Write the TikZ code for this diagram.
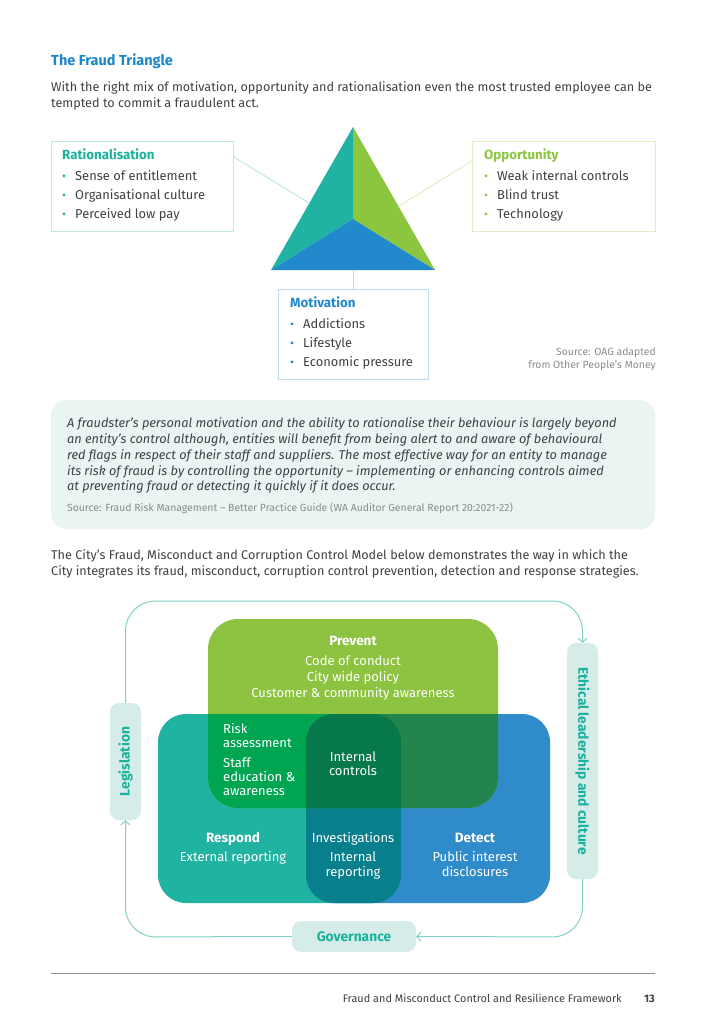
\documentclass[tikz,border=0pt]{standalone}
\usepackage{fontspec}
\setmainfont{Fira Sans}
\usetikzlibrary{arrows.meta,calc}
\definecolor{titleblue}{HTML}{1B87C9}
\definecolor{bodytext}{HTML}{3E4245}
\definecolor{ratteal}{HTML}{1AB29C}
\definecolor{oppgreen}{HTML}{8CC63F}
\definecolor{motblue}{HTML}{2289CD}
\definecolor{ratborder}{HTML}{BFE8E4}
\definecolor{oppborder}{HTML}{DCEFC5}
\definecolor{motborder}{HTML}{BDDCF0}
\definecolor{quotefill}{HTML}{EAF4F2}
\definecolor{srcgray}{HTML}{8A8C8E}
\definecolor{dteal}{HTML}{21B3A2}
\definecolor{dblue}{HTML}{2F8BC9}
\definecolor{dtb}{HTML}{077F8C}
\definecolor{dgreen}{HTML}{8DC340}
\definecolor{dpr}{HTML}{00A551}
\definecolor{dpd}{HTML}{22854D}
\definecolor{dprd}{HTML}{07784A}
\definecolor{pillfill}{HTML}{D5ECE8}
\definecolor{pilltext}{HTML}{1AB29C}
\definecolor{loopline}{HTML}{82D0C6}
\definecolor{footgray}{HTML}{8E9194}
\tikzset{
  body/.style={anchor=base west, inner sep=0, text=bodytext, font=\fontsize{12.65}{15}\selectfont},
  btitle/.style={anchor=base west, inner sep=0, font=\bfseries\fontsize{13.3}{15}\selectfont},
  bitem/.style={anchor=base west, inner sep=0, text=bodytext, font=\fontsize{12.9}{15}\selectfont},
  bdot/.style={anchor=base, inner sep=0, font=\fontsize{12}{12}\selectfont},
  fbox/.style={draw, line width=1pt, anchor=north west, inner sep=0},
  quote/.style={anchor=base west, inner sep=0, text=bodytext, font=\itshape\fontsize{12.75}{15}\selectfont},
  src/.style={inner sep=0, text=srcgray, font=\fontsize{10.4}{12}\selectfont},
  dtext/.style={anchor=base, inner sep=0, text=white, font=\fontsize{13}{15}\selectfont},
  dhead/.style={anchor=base, inner sep=0, text=white, font=\bfseries\fontsize{13.5}{15}\selectfont},
  dleft/.style={anchor=base west, inner sep=0, text=white, font=\fontsize{13}{15}\selectfont},
  pill/.style={fill=pillfill, rounded corners=9, inner sep=0, text=pilltext, font=\bfseries\fontsize{13.8}{15}\selectfont},
  loop/.style={draw=loopline, line width=1pt, rounded corners=30},
  tip/.style={-{Straight Barb[length=4pt,width=9pt]}}
}
\begin{document}
\begin{tikzpicture}[x=1pt,y=-1pt]
\useasboundingbox[fill=white] (0,0) rectangle (706,1021);

% ---------- header ----------
\node[anchor=base west, inner sep=0, text=titleblue, font=\bfseries\fontsize{14.5}{17}\selectfont] (title) at (51,65) {The Fraud Triangle};
\node[body] (p1) at (51,91) {With the right mix of motivation, opportunity and rationalisation even the most trusted employee can be};
\node[body] (p2) at (51,107) {tempted to commit a fraudulent act.};

% ---------- triangle ----------
\coordinate (apex) at (353,127);
\coordinate (ctr) at (353,219);
\coordinate (bl) at (271,270);
\coordinate (br) at (435,270);
\fill[dteal] (apex) -- (ctr) -- (bl) -- cycle;
\fill[oppgreen] (apex) -- (br) -- (ctr) -- cycle;
\fill[motblue] (bl) -- (ctr) -- (br) -- cycle;
\coordinate (tl) at (309,203);
\coordinate (tr) at (399,206);
\coordinate (tb) at (353,270);

% Rationalisation
\node[fbox, draw=ratborder, minimum width=182, minimum height=90] (rat) at (51,141) {};
\draw[ratborder, line width=1pt] ($(rat.north east)+(0,16)$) -- (tl);
\node[btitle, text=ratteal] (ratt) at (62,159) {Rationalisation};
\node[bdot, text=ratteal] (rd1) at (64,180) {•};
\node[bitem] (r1) at (75,180) {Sense of entitlement};
\node[bdot, text=ratteal] (rd2) at (64,199) {•};
\node[bitem] (r2) at (75,199) {Organisational culture};
\node[bdot, text=ratteal] (rd3) at (64,218) {•};
\node[bitem] (r3) at (75,218) {Perceived low pay};

% Opportunity
\node[fbox, draw=oppborder, minimum width=183, minimum height=90] (opp) at (472,141) {};
\draw[oppborder, line width=1pt] ($(opp.north west)+(0,20)$) -- (tr);
\node[btitle, text=oppgreen] (oppt) at (484,159) {Opportunity};
\node[bdot, text=oppgreen] (od1) at (486,180) {•};
\node[bitem] (o1) at (497,180) {Weak internal controls};
\node[bdot, text=oppgreen] (od2) at (486,199) {•};
\node[bitem] (o2) at (497,199) {Blind trust};
\node[bdot, text=oppgreen] (od3) at (486,218) {•};
\node[bitem] (o3) at (497,218) {Technology};

% Motivation
\node[fbox, draw=motborder, minimum width=150, minimum height=90] (mot) at (278,289) {};
\draw[motborder, line width=1pt] (tb) -- (mot.north -| tb);
\node[btitle, text=motblue] (mott) at (290,307) {Motivation};
\node[bdot, text=motblue] (md1) at (292,328) {•};
\node[bitem] (m1) at (303,328) {Addictions};
\node[bdot, text=motblue] (md2) at (292,347) {•};
\node[bitem] (m2) at (303,347) {Lifestyle};
\node[bdot, text=motblue] (md3) at (292,366) {•};
\node[bitem] (m3) at (303,366) {Economic pressure};

\node[src, anchor=base east] (s1) at (656,355) {Source: OAG adapted};
\node[src, anchor=base east] (s2) at (656,368) {from Other People’s Money};

% ---------- quote box ----------
\fill[quotefill, rounded corners=15] (51,400) rectangle (655,529);
\node[quote] (q1) at (67,427) {A fraudster’s personal motivation and the ability to rationalise their behaviour is largely beyond};
\node[quote] (q2) at (67,443) {an entity’s control although, entities will benefit from being alert to and aware of behavioural};
\node[quote] (q3) at (67,459) {red flags in respect of their staff and suppliers. The most effective way for an entity to manage};
\node[quote] (q4) at (67,475) {its risk of fraud is by controlling the opportunity – implementing or enhancing controls aimed};
\node[quote] (q5) at (67,490) {at preventing fraud or detecting it quickly if it does occur.};
\node[src, anchor=base west] (qs) at (67,511) {Source: Fraud Risk Management – Better Practice Guide (WA Auditor General Report 20:2021-22)};

% ---------- paragraph ----------
\node[body] (p3) at (51,559) {The City’s Fraud, Misconduct and Corruption Control Model below demonstrates the way in which the};
\node[body] (p4) at (51,575) {City integrates its fraud, misconduct, corruption control prevention, detection and response strategies.};

% ---------- model ----------
\def\respondpath{(158,714) rectangle (401,903)}
\def\detectpath{(306,714) rectangle (550,903)}
\def\preventpath{(208,619) rectangle (498,808)}
\fill[dteal, rounded corners=28] \respondpath;
\fill[dblue, rounded corners=28] \detectpath;
\begin{scope}
  \clip[rounded corners=28] \respondpath;
  \fill[dtb, rounded corners=28] \detectpath;
\end{scope}
\fill[dgreen, rounded corners=30] \preventpath;
\begin{scope}
  \clip[rounded corners=30] \preventpath;
  \fill[dpr, rounded corners=28] \respondpath;
  \fill[dpd, rounded corners=28] \detectpath;
  \begin{scope}
    \clip[rounded corners=28] \respondpath;
    \fill[dprd, rounded corners=28] \detectpath;
  \end{scope}
\end{scope}

\node[dhead] (prev) at (353,645) {Prevent};
\node[dtext] (pv1) at (353,665) {Code of conduct};
\node[dtext] (pv2) at (353,681) {City wide policy};
\node[dtext] (pv3) at (353,697) {Customer \& community awareness};

\node[dleft] (ra1) at (223,733) {Risk};
\node[dleft] (ra2) at (223,747) {assessment};
\node[dleft] (se1) at (223,767) {Staff};
\node[dleft] (se2) at (223,781) {education \&};
\node[dleft] (se3) at (223,795) {awareness};

\node[dtext] (ic1) at (353,761) {Internal};
\node[dtext] (ic2) at (353,775) {controls};

\node[dhead] (resp) at (233,842) {Respond};
\node[dtext] (rs1) at (233,861) {External reporting};

\node[dtext] (inv) at (353,842) {Investigations};
\node[dtext] (ir1) at (353,861) {Internal};
\node[dtext] (ir2) at (353,876) {reporting};

\node[dhead] (det) at (475,842) {Detect};
\node[dtext] (dt1) at (475,861) {Public interest};
\node[dtext] (dt2) at (475,876) {disclosures};

% pills
\node[pill, minimum width=117, minimum height=31, rotate=90] (leg) at (125.5,761.5) {Legislation};
\node[pill, minimum width=236, minimum height=31, rotate=-90] (eth) at (582.5,761) {Ethical leadership and culture};
\node[pill, minimum width=124, minimum height=31] (gov) at (354,936.5) {Governance};

\coordinate (ctl) at (125.5,601);
\coordinate (ctr2) at (582.5,601);
\coordinate (cbr) at (582.5,937);
\coordinate (cbl) at (125.5,937);
\draw[loop, tip] (leg.east) -- (ctl) -- (ctr2) -- (eth.west);
\draw[loop, tip] (eth.east) -- (cbr) -- (gov.east);
\draw[loop, tip] (gov.west) -- (cbl) -- (leg.west);

% ---------- footer ----------
\coordinate (fl) at (51,973);
\coordinate (fr) at (655,973);
\draw[footgray, line width=0.8pt] (fl) -- (fr);
\node[anchor=base east, inner sep=0, text=bodytext, font=\fontsize{10.9}{12}\selectfont] (ft) at (622,1002) {Fraud and Misconduct Control and Resilience Framework};
\node[anchor=base east, inner sep=0, text=bodytext, font=\bfseries\fontsize{10.9}{12}\selectfont] (pg) at (655,1002) {13};
\end{tikzpicture}
\end{document}
